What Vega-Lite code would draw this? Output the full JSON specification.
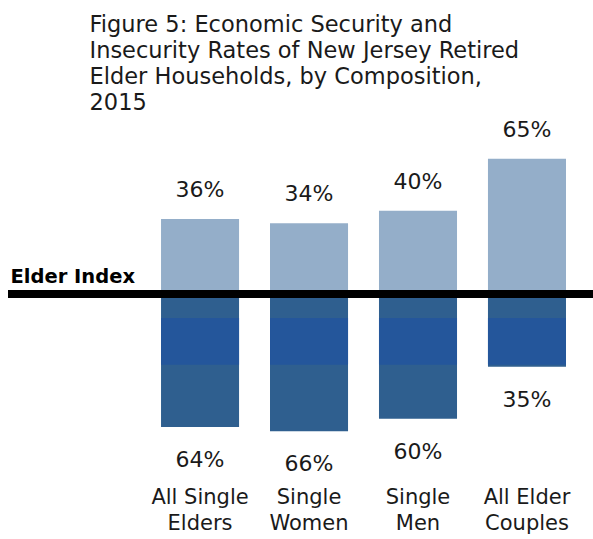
{
  "$schema": "https://vega.github.io/schema/vega-lite/v6.json",
  "width": 585,
  "height": 363,
  "autosize": {"type": "none"},
  "padding": {"left": 8, "top": 115, "right": 0, "bottom": 61},
  "background": "white",
  "config": {
    "view": {"stroke": null},
    "font": "DejaVu Sans"
  },
  "title": {
    "text": ["Figure 5: Economic Security and", "Insecurity Rates of New Jersey Retired", "Elder Households, by Composition,", "2015"],
    "anchor": "start",
    "orient": "top",
    "dx": 85,
    "offset": 1,
    "fontSize": 22.5,
    "fontWeight": "normal",
    "font": "DejaVu Sans",
    "color": "#1a1a1a",
    "lineHeight": 26
  },
  "data": {
    "values": [
      {"group": "All Single|Elders", "status": "Secure", "value": 36},
      {"group": "All Single|Elders", "status": "Insecure", "value": -64},
      {"group": "Single|Women", "status": "Secure", "value": 34},
      {"group": "Single|Women", "status": "Insecure", "value": -66},
      {"group": "Single|Men", "status": "Secure", "value": 40},
      {"group": "Single|Men", "status": "Insecure", "value": -60},
      {"group": "All Elder|Couples", "status": "Secure", "value": 65},
      {"group": "All Elder|Couples", "status": "Insecure", "value": -35}
    ]
  },
  "transform": [
    {"calculate": "abs(datum.value) + '%'", "as": "label"}
  ],
  "encoding": {
    "x": {
      "field": "group",
      "type": "nominal",
      "sort": null,
      "scale": {"paddingInner": 0.284, "paddingOuter": 0.826, "align": 0.85, "round": false},
      "axis": {
        "orient": "bottom",
        "title": null,
        "domain": false,
        "ticks": false,
        "labelAngle": 0,
        "labelExpr": "split(datum.label, '|')",
        "labelFontSize": 21,
        "labelLineHeight": 26,
        "labelPadding": 8,
        "labelColor": "#1a1a1a",
        "labelFont": "DejaVu Sans"
      }
    }
  },
  "layer": [
    {
      "mark": {"type": "bar"},
      "encoding": {
        "y": {
          "field": "value",
          "type": "quantitative",
          "scale": {"domain": [-88.46, 86.06], "nice": false, "zero": false},
          "axis": {
            "values": [0],
            "labelExpr": "'Elder Index'",
            "labelFontWeight": "bold",
            "labelFontSize": 19.5,
            "labelAlign": "left",
            "labelBaseline": "alphabetic",
            "labelPadding": -2,
            "labelOffset": -12,
            "labelColor": "#000000",
            "labelFont": "DejaVu Sans",
            "ticks": false,
            "tickSize": 0,
            "domain": false,
            "grid": false,
            "title": null
          }
        },
        "y2": {"datum": 0},
        "color": {
          "field": "status",
          "type": "nominal",
          "scale": {"domain": ["Secure", "Insecure"], "range": ["#94aec9", "#2f5f8f"]},
          "legend": null
        }
      }
    },
    {
      "transform": [{"filter": "datum.status === 'Insecure'"}],
      "mark": {"type": "bar", "color": "#24569b"},
      "encoding": {
        "y": {"datum": -11.5},
        "y2": {"datum": -34}
      }
    },
    {
      "mark": {"type": "rule", "color": "#000000", "strokeWidth": 7},
      "encoding": {
        "x": null,
        "y": {"datum": 0}
      }
    },
    {
      "transform": [{"filter": "datum.status === 'Secure'"}],
      "mark": {"type": "text", "fontSize": 22, "baseline": "middle", "dy": -29, "color": "#1a1a1a", "font": "DejaVu Sans"},
      "encoding": {
        "y": {"field": "value", "type": "quantitative"},
        "text": {"field": "label"}
      }
    },
    {
      "transform": [{"filter": "datum.status === 'Insecure'"}],
      "mark": {"type": "text", "fontSize": 22, "baseline": "middle", "dy": 33, "color": "#1a1a1a", "font": "DejaVu Sans"},
      "encoding": {
        "y": {"field": "value", "type": "quantitative"},
        "text": {"field": "label"}
      }
    }
  ]
}
